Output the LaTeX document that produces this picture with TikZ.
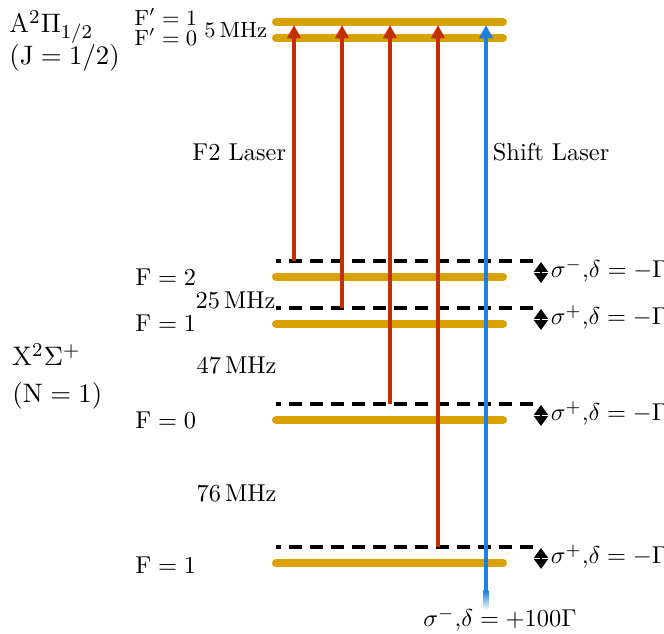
\documentclass[tikz,border=0pt]{standalone}
\usetikzlibrary{arrows.meta}
\definecolor{levelcol}{RGB}{217,161,0}
\definecolor{pumpcol}{RGB}{192,48,0}
\definecolor{shiftcol}{RGB}{32,128,225}
\begin{document}
\begin{tikzpicture}[x=0.41pt,y=-0.41pt,
    hfslevel/.style={levelcol,line width=3.3pt,line cap=round},
    virt/.style={black,line width=1.3pt,dash pattern=on 5.3pt off 3.3pt},
    pump/.style={pumpcol,line width=2pt,-{Triangle[length=5.5pt,width=5.5pt]}},
    shiftlaser/.style={shiftcol,line width=2pt,-{Triangle[length=5.5pt,width=5.5pt]}},
    dbl/.style={black,line width=1.2pt,{Triangle[length=4pt,width=5.5pt]}-{Triangle[length=4pt,width=5.5pt]}},
    statelab/.style={anchor=base west,inner sep=0pt,font=\fontsize{11}{13}\selectfont}]
   \useasboundingbox (0,0) rectangle (664,634);
   % hyperfine levels
   \foreach \y in {22,38,277,324,420,563}
     \draw[hfslevel] (276,\y) -- (503,\y);
   % virtual levels with polarisation
   \foreach \y/\s/\n in {261/-/1, 308/+/2, 404/+/3, 547/+/4} {
     \draw[virt] (533,\y) -- (276,\y);
     \draw[dbl] (541,\y+1) -- (541,\y+22);
     \node[anchor=base west,inner sep=1pt] (pol\n) at (548,\y+17) {$\sigma^\s$,$\delta=-\Gamma$};
   }
   % F2 laser
   \foreach \x/\y/\n in {294/261/1, 342/308/2, 390/404/3, 438/547/4} {
     \coordinate (v\n) at (\x,\y);
     \coordinate (t\n) at (\x,25);
     \draw[pump] (v\n) -- (t\n);
   }
   % shift laser
   \coordinate (sb) at (486,592);
   \coordinate (st) at (486,25);
   \shade[top color=shiftcol,bottom color=white] (483.5,591) rectangle (488.5,610);
   \draw[shiftlaser] (sb) -- (st);
   \node[anchor=base] (sl) at (500,627) {$\sigma^-$,$\delta=+100\Gamma$};
   \node[anchor=base east,inner sep=1pt] (f2) at (289,161) {F2 Laser};
   \node[anchor=base west,inner sep=1pt] (sh) at (490,161) {Shift Laser};
   % state labels
   \node[statelab] (A) at (9,33) {A$^2\Pi_{1/2}$};
   \node[statelab] (J) at (9,65) {$(\mathrm{J}=1/2)$};
   \node[statelab] (X) at (12,366) {X$^2\Sigma^+$};
   \node[statelab] (N) at (12,403) {$(\mathrm{N}=1)$};
   \node[anchor=base west,inner sep=0pt,font=\small] (e1) at (134,26) {$\mathrm{F}'=1$};
   \node[anchor=base west,inner sep=0pt,font=\small] (e0) at (134,46) {$\mathrm{F}'=0$};
   \node[anchor=base west,inner sep=0pt,font=\small] (d5) at (204,38) {$5\,\mathrm{MHz}$};
   \foreach \y/\f/\n in {286/2/a, 332/1/b, 429/0/c, 574/1/d}
     \node[anchor=base west,inner sep=0pt] (g\n) at (135,\y) {$\mathrm{F}=\f$};
   \node[anchor=base east,inner sep=0pt] (d25) at (276,309) {$25\,\mathrm{MHz}$};
   \node[anchor=base east,inner sep=0pt] (d47) at (277,374) {$47\,\mathrm{MHz}$};
   \node[anchor=base east,inner sep=0pt] (d76) at (277,502) {$76\,\mathrm{MHz}$};
\end{tikzpicture}
\end{document}
